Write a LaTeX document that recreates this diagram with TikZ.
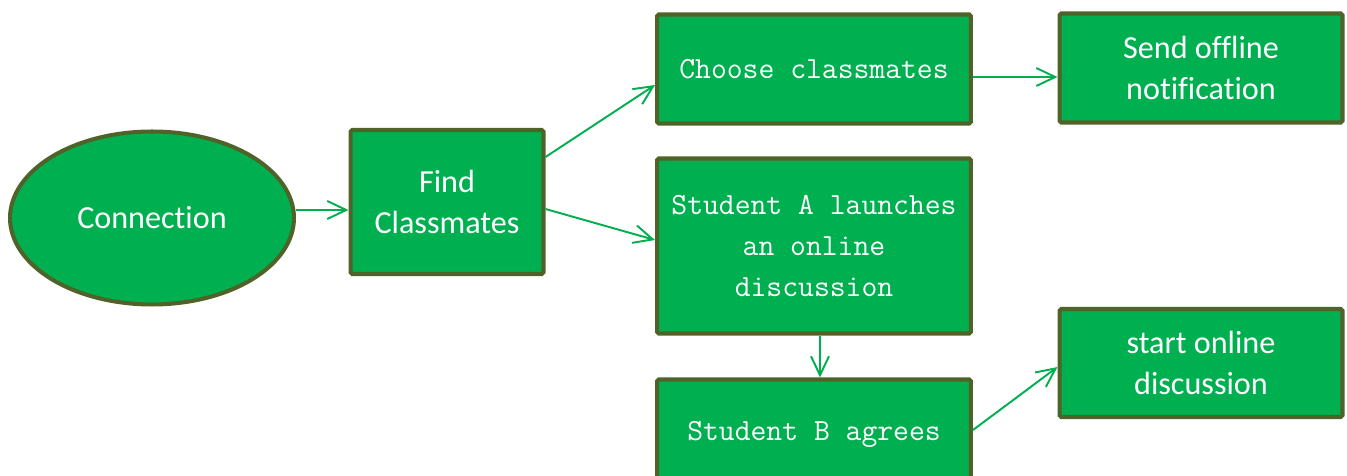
\documentclass[tikz,border=0pt]{standalone}
\usepackage{fontspec}
\setmainfont{Carlito}[Ligatures=NoCommon]
\usepackage{xcolor}
\usepackage{tikz}
\usetikzlibrary{arrows.meta,positioning,shapes.geometric}

\definecolor{boxgreen}{HTML}{00B050}
\definecolor{boxedge}{HTML}{4F6228}

\begin{document}
\begin{tikzpicture}[
    x=0.02cm,y=-0.02cm,
    block/.style={draw=boxedge, fill=boxgreen, line width=2.3pt, rounded corners=1pt,
                  align=center, text=white, inner sep=2pt,
                  font=\fontsize{18.3}{23.8}\selectfont},
    monoblock/.style={block, font=\ttfamily\fontsize{17.5}{23.5}\selectfont},
    oval/.style={block, ellipse, minimum width=5.68cm, minimum height=3.46cm},
    arrow/.style={-{Straight Barb[length=0.38cm, width=0.36cm]}, line width=1.1pt, boxgreen}
]
\useasboundingbox (0,0) rectangle (1347,476);

\node[oval] (conn) at (152,218) {Connection};
\node[block, minimum width=3.86cm, minimum height=2.88cm] (findcm) at (447,202) {Find\\Classmates};

\node[monoblock, minimum width=6.28cm, minimum height=2.18cm] (choose) at (814,69) {Choose classmates};
\node[monoblock, minimum width=6.28cm, minimum height=3.5cm] (launch) at (814,246)
  {Student A launches\\an online\\discussion};
\node[monoblock, minimum width=6.28cm, minimum height=2.18cm] (agree) at (814,434) {Student B agrees};

\node[block, minimum width=5.66cm, minimum height=2.18cm] (offline) at (1201,68) {Send offline\\notification};
\node[block, minimum width=5.66cm, minimum height=2.16cm] (startdisc) at (1201,363) {start online\\discussion};

\draw[arrow] ([yshift=-0.16cm]findcm.west -| conn.east) -- ([yshift=-0.16cm]findcm.west);
\draw[arrow] ([yshift=0.9cm]findcm.east) -- ([yshift=-0.32cm]choose.west);
\draw[arrow] ([yshift=-0.14cm]findcm.east) -- ([yshift=0.12cm]launch.west);
\draw[arrow] ([xshift=0.12cm]launch.south) -- ([xshift=0.12cm]agree.north);
\draw[arrow] ([yshift=-0.16cm]choose.east) -- ([yshift=-0.16cm]choose.east -| offline.west);
\draw[arrow] ([yshift=0.08cm]agree.east) -- ([yshift=-0.08cm]startdisc.west);
\end{tikzpicture}
\end{document}
